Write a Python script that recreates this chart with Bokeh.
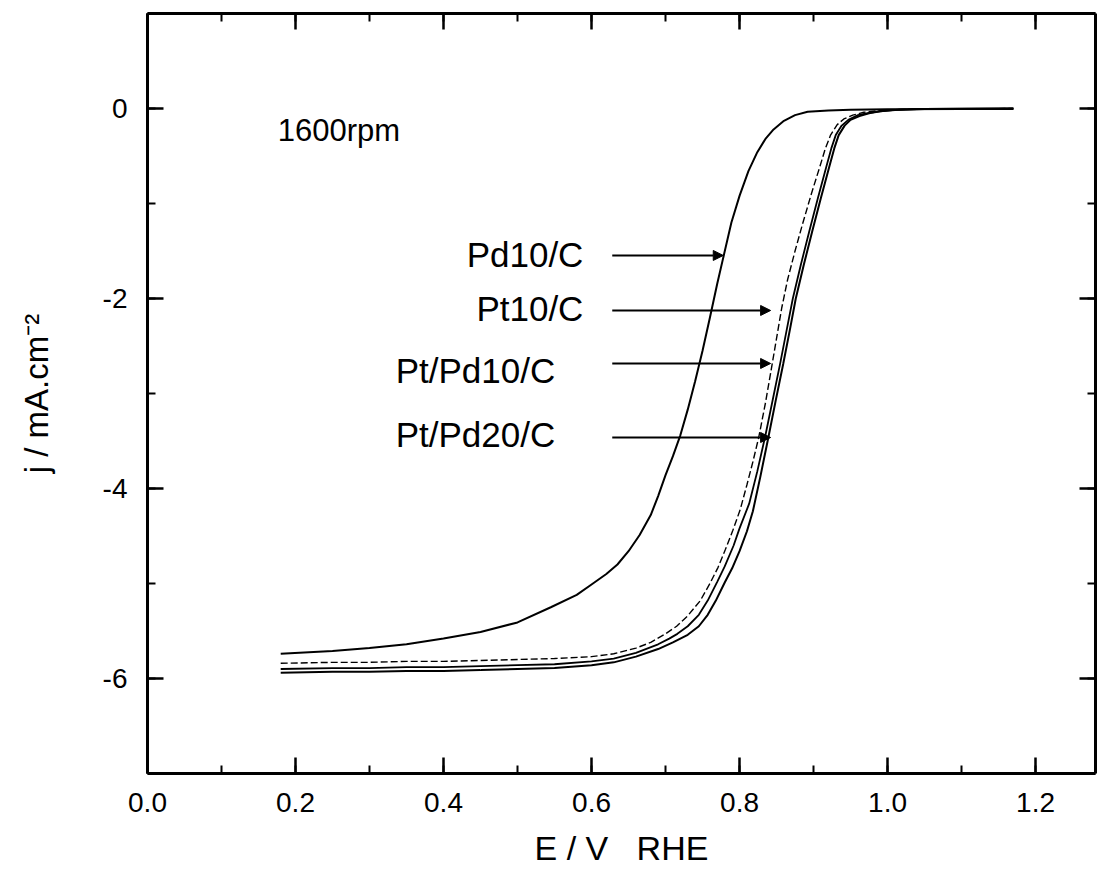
from bokeh.plotting import figure
from bokeh.models import (LinearAxis, Range1d, Arrow, NormalHead, ColumnDataSource,
                          SingleIntervalTicker, PrintfTickFormatter)
from bokeh.core.properties import value
from bokeh.embed import file_html
from bokeh.resources import INLINE

# ---- data ----
E_pd10 = [0.18, 0.25, 0.30, 0.35, 0.40, 0.45, 0.50, 0.545, 0.58, 0.60, 0.62, 0.635, 0.65, 0.665,
          0.68, 0.69, 0.70, 0.71, 0.72, 0.73, 0.74, 0.75, 0.76, 0.77, 0.778, 0.789, 0.80, 0.812,
          0.824, 0.835, 0.846, 0.86, 0.875, 0.892, 0.92, 0.95, 1.00, 1.10, 1.17]
j_pd10 = [-5.74, -5.71, -5.68, -5.64, -5.58, -5.51, -5.41, -5.25, -5.12, -5.01, -4.90, -4.80, -4.66, -4.49,
          -4.28, -4.08, -3.86, -3.66, -3.44, -3.17, -2.87, -2.55, -2.20, -1.84, -1.57, -1.20, -0.92, -0.66,
          -0.46, -0.32, -0.22, -0.13, -0.07, -0.035, -0.02, -0.012, -0.008, -0.005, -0.005]

E_pt10 = [0.18, 0.25, 0.30, 0.35, 0.40, 0.45, 0.50, 0.55, 0.60, 0.63, 0.66, 0.68, 0.70, 0.715,
          0.73, 0.747, 0.76, 0.771, 0.781, 0.791, 0.801, 0.81, 0.818, 0.826, 0.835, 0.843, 0.85,
          0.857, 0.865, 0.875, 0.885, 0.897, 0.909, 0.916, 0.923, 0.932, 0.941, 0.953, 0.968,
          0.985, 1.01, 1.05, 1.17]
j_pt10 = [-5.84, -5.83, -5.83, -5.82, -5.82, -5.81, -5.80, -5.79, -5.77, -5.74, -5.68, -5.62, -5.53, -5.45,
          -5.34, -5.18, -5.00, -4.83, -4.64, -4.44, -4.22, -3.96, -3.72, -3.46, -3.10, -2.74, -2.42,
          -2.10, -1.80, -1.50, -1.22, -0.90, -0.60, -0.42, -0.28, -0.17, -0.11, -0.07, -0.04,
          -0.025, -0.012, -0.005, 0.0]

E_ptpd10 = [0.18, 0.25, 0.30, 0.35, 0.40, 0.45, 0.50, 0.55, 0.60, 0.63, 0.66, 0.69, 0.705, 0.716,
            0.73, 0.745, 0.757, 0.77, 0.78, 0.792, 0.80, 0.813, 0.824, 0.835, 0.845, 0.855, 0.864,
            0.872, 0.883, 0.894, 0.906, 0.917, 0.924, 0.930, 0.938, 0.947, 0.96, 0.975, 0.99,
            1.01, 1.05, 1.17]
j_ptpd10 = [-5.90, -5.89, -5.89, -5.88, -5.88, -5.87, -5.86, -5.85, -5.82, -5.79, -5.73, -5.64, -5.58, -5.53,
            -5.45, -5.33, -5.18, -4.98, -4.82, -4.60, -4.42, -4.16, -3.82, -3.44, -3.06, -2.68, -2.32,
            -2.00, -1.64, -1.30, -0.94, -0.62, -0.42, -0.28, -0.18, -0.12, -0.07, -0.045, -0.03,
            -0.015, -0.005, 0.0]

E_ptpd20 = [0.18, 0.25, 0.30, 0.35, 0.40, 0.45, 0.50, 0.55, 0.60, 0.63, 0.66, 0.69, 0.71, 0.73,
            0.745, 0.757, 0.768, 0.78, 0.79, 0.80, 0.81, 0.818, 0.828, 0.839, 0.849, 0.859, 0.868,
            0.876, 0.887, 0.898, 0.91, 0.921, 0.928, 0.934, 0.942, 0.950, 0.962, 0.975, 0.99,
            1.01, 1.05, 1.17]
j_ptpd20 = [-5.94, -5.93, -5.93, -5.92, -5.92, -5.91, -5.90, -5.89, -5.86, -5.83, -5.77, -5.69, -5.62, -5.54,
            -5.45, -5.33, -5.18, -4.99, -4.84, -4.66, -4.45, -4.24, -3.88, -3.46, -3.07, -2.69, -2.33,
            -2.00, -1.64, -1.30, -0.94, -0.62, -0.42, -0.28, -0.18, -0.12, -0.08, -0.05, -0.03,
            -0.015, -0.005, 0.0]

# annotation labels and arrows
label_texts = ["Pd10/C", "Pt10/C", "Pt/Pd10/C", "Pt/Pd20/C"]
label_x = [0.589, 0.589, 0.551, 0.551]
label_y = [-1.54, -2.10, -2.76, -3.43]
arrow_x0 = [0.628, 0.628, 0.628, 0.628]
arrow_x1 = [0.778, 0.842, 0.842, 0.842]
arrow_y = [-1.547, -2.126, -2.684, -3.463]

note_text = ["1600rpm"]
note_x = [0.176]
note_y = [-0.23]

FONT = "Liberation Sans"

p = figure(frame_width=948, frame_height=760,
           x_range=Range1d(0, 1.281), y_range=Range1d(-7, 1),
           output_backend="svg", toolbar_location=None,
           min_border_left=147, min_border_top=13, min_border_right=2, min_border_bottom=40,
           background_fill_color="white", border_fill_color="white")
p.outline_line_color = None
p.xgrid.visible = False
p.ygrid.visible = False

bottom = p.below[0]
left = p.left[0]
bottom.ticker = SingleIntervalTicker(interval=0.2, num_minor_ticks=2)
left.ticker = SingleIntervalTicker(interval=2, num_minor_ticks=2)
bottom.formatter = PrintfTickFormatter(format="%.1f")
left.formatter = PrintfTickFormatter(format="%d")

top = LinearAxis(ticker=SingleIntervalTicker(interval=0.2, num_minor_ticks=2))
right = LinearAxis(ticker=SingleIntervalTicker(interval=2, num_minor_ticks=2))
p.add_layout(top, "above")
p.add_layout(right, "right")

for ax in [bottom, left, top, right]:
    ax.axis_line_width = 3
    ax.axis_line_color = "black"
    ax.major_tick_in = 16
    ax.major_tick_out = 0
    ax.minor_tick_in = 8
    ax.minor_tick_out = 0
    ax.major_tick_line_width = 2.5
    ax.minor_tick_line_width = 2
    ax.major_tick_line_color = "black"
    ax.minor_tick_line_color = "black"
    ax.major_label_text_font = FONT
    ax.major_label_text_color = "black"
    ax.axis_label_text_font = FONT
    ax.axis_label_text_font_style = "normal"
    ax.axis_label_text_color = "black"

for ax in [top, right]:
    ax.major_label_text_font_size = "0px"
    ax.major_label_text_alpha = 0
    ax.major_label_standoff = 0

bottom.major_label_text_font_size = "28px"
left.major_label_text_font_size = "28px"
bottom.major_label_standoff = 19
left.major_label_standoff = 20

bottom.axis_label = "E / V\u00a0\u00a0\u00a0RHE"
bottom.axis_label_text_font_size = "34px"
bottom.axis_label_standoff = 14
left.axis_label = "j / mA.cm\u207b\u00b2"
left.axis_label_text_font_size = "33px"
left.axis_label_standoff = 45

# curves
p.line(E_pd10, j_pd10, line_color="black", line_width=2)
p.line(E_pt10, j_pt10, line_color="black", line_width=1.4, line_dash="7 3")
p.line(E_ptpd10, j_ptpd10, line_color="black", line_width=1.8)
p.line(E_ptpd20, j_ptpd20, line_color="black", line_width=2)

# text labels
lab_src = ColumnDataSource(dict(x=label_x, y=label_y, t=label_texts))
p.text(x="x", y="y", text="t", source=lab_src, text_font=value(FONT),
       text_font_size=value("35px"), text_align="right", text_baseline="alphabetic",
       text_color="black")
note_src = ColumnDataSource(dict(x=note_x, y=note_y, t=note_text))
p.text(x="x", y="y", text="t", source=note_src, text_font=value(FONT),
       text_font_size=value("31px"), text_align="left", text_baseline="alphabetic",
       text_color="black")

# arrows
arr_src = ColumnDataSource(dict(x0=arrow_x0, x1=arrow_x1, y=arrow_y))
p.add_layout(Arrow(source=arr_src, x_start="x0", y_start="y", x_end="x1", y_end="y",
                   line_width=2, line_color="black",
                   end=NormalHead(size=10, fill_color="black", line_color="black")))

open("out.html", "w").write(file_html(p, INLINE))
